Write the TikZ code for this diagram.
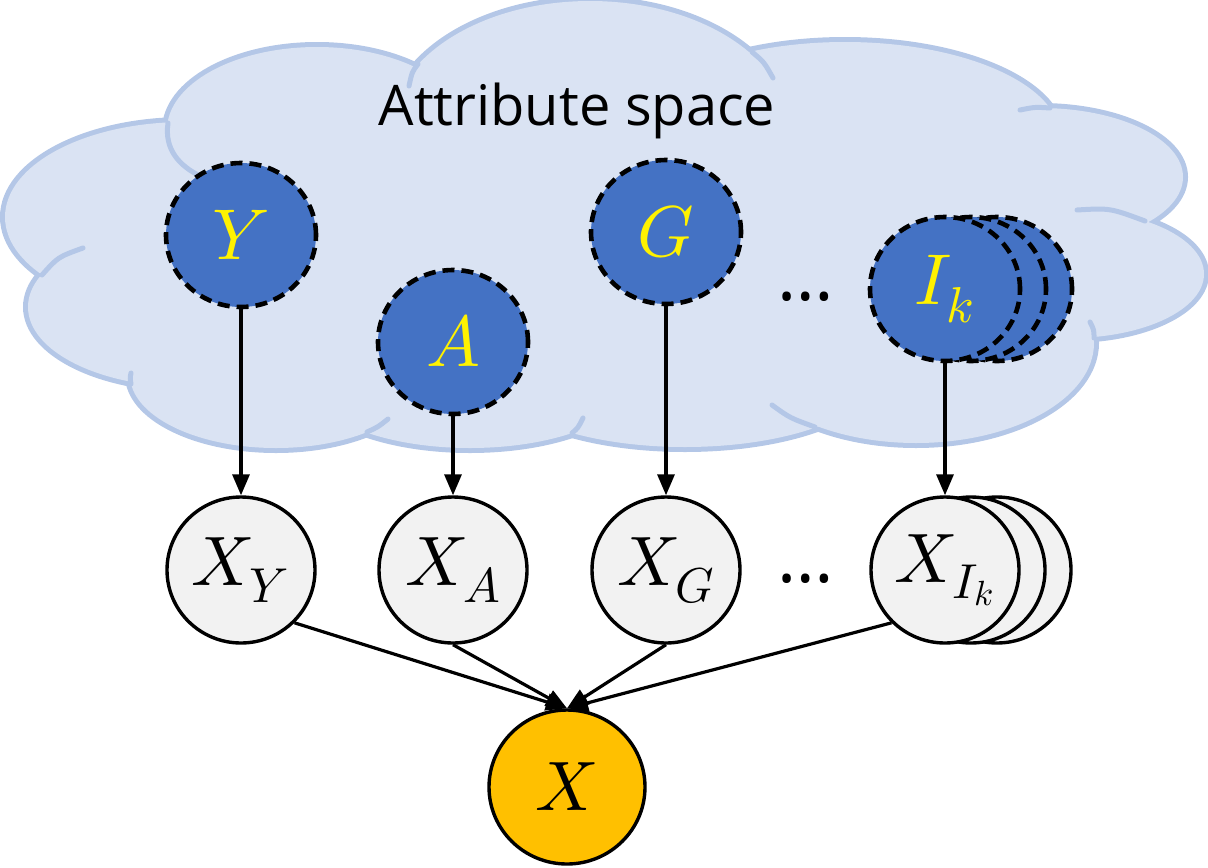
\documentclass[tikz,border=0pt]{standalone}
\usepackage{fontspec}
\setmainfont{Open Sans}
\usetikzlibrary{arrows.meta,shapes.geometric}
\DeclareFontShape{OML}{cmm}{m}{it}{<->cmmi10}{}
\definecolor{cloudfill}{HTML}{DAE3F3}
\definecolor{cloudline}{HTML}{B4C7E7}
\definecolor{attrblue}{HTML}{4472C4}
\definecolor{obsgrey}{HTML}{F2F2F2}
\definecolor{targetgold}{HTML}{FFC000}
\def\cloudbumps{185/217/180/95, 317/130/150/83, 590/131/200/130, 845/137/215/95,
    1040/177/143/69, 1070/274/134/64, 916/343/178/100, 685/372/194/75,
    470/378/165/70, 276/375/146/73, 188/307/160/80}

\begin{document}
\begin{tikzpicture}[x=0.5pt,y=-0.5pt,
    attr/.style={ellipse,draw=black,fill=attrblue,line width=2.3pt,dash pattern=on 6pt off 3.5pt,
        minimum width=75pt,minimum height=72pt,inner sep=0pt,text=yellow,font=\fontsize{36}{40}\selectfont},
    obs/.style={ellipse,draw=black,fill=obsgrey,line width=1.7pt,
        minimum width=74pt,minimum height=73pt,inner sep=0pt,font=\fontsize{35}{40}\selectfont},
    target/.style={obs,fill=targetgold,minimum width=78pt,minimum height=77pt},
    arrowline/.style={line width=1.6pt,-{Triangle[length=10.5pt,width=8.5pt]}},
    cloudrim/.style={draw=cloudline,line width=2.5pt,line cap=round}]
    \useasboundingbox (0,0) rectangle (1208,867);

    % cloud: bumps stroked first, then filled over
    \foreach \cx/\cy/\rx/\ry in \cloudbumps {
        \draw[cloudline,line width=5pt] (\cx,\cy) ellipse [x radius=\rx,y radius=\ry];
    }
    \foreach \cx/\cy/\rx/\ry in \cloudbumps {
        \fill[cloudfill] (\cx,\cy) ellipse [x radius=\rx,y radius=\ry];
    }
    \fill[cloudfill] (600,250) ellipse [x radius=450,y radius=150];

    % short inner rims
    \draw[cloudrim] (168,123) .. controls (164,150) and (180,166) .. (200,176);
    \draw[cloudrim] (418,64) .. controls (412,72) .. (409,86);
    \draw[cloudrim] (752,52) .. controls (764,62) .. (773,78);
    \draw[cloudrim] (1050,108) .. controls (1035,107) .. (1020,110);
    \draw[cloudrim] (1145,221) .. controls (1110,208) .. (1077,210);
    \draw[cloudrim] (1094,338) .. controls (1094,330) .. (1090,322);
    \draw[cloudrim] (815,427) .. controls (790,418) .. (772,405);
    \draw[cloudrim] (572,433) .. controls (578,428) .. (583,418);
    \draw[cloudrim] (367,432) .. controls (378,427) .. (388,419);
    \draw[cloudrim] (131,384) .. controls (130,378) .. (131,373);
    \draw[cloudrim] (42,275) .. controls (58,257) .. (83,248);

    \node[font=\fontsize{28}{32}\selectfont,anchor=base] (title) at (577,125) {Attribute space};

    % attribute nodes
    \node[attr] (Y) at (241,235) {$Y$};
    \node[attr] (A) at (453,342) {$A$};
    \node[attr] (G) at (666,232) {$G$};
    \foreach \s in {52,26} {
        \node[attr] (Ik-\s) at ({945+\s},289) {};
    }
    \node[attr] (Ik) at (945,289) {$I_k$};
    \node[font=\fontsize{36}{40}\selectfont] (dotsTop) at (806,297) {…};

    % observed nodes
    \node[obs] (XY) at (241,570) {$X_Y$};
    \node[obs] (XA) at (453,570) {$X_A$};
    \node[obs] (XG) at (666,570) {$X_G$};
    \foreach \s in {52,26} {
        \node[obs] (XIk-\s) at ({945+\s},570) {};
    }
    \node[obs] (XIk) at (945,570) {$X_{I_k}$};
    \node[font=\fontsize{36}{40}\selectfont] (dotsBottom) at (806,579) {…};

    \node[target] (X) at (567,787) {$X$};

    \draw[arrowline] (Y) -- (XY);
    \draw[arrowline] (A) -- (XA);
    \draw[arrowline] (G) -- (XG);
    \draw[arrowline] (Ik) -- (XIk);
    \draw[arrowline] (XY.south east) -- (X.north);
    \draw[arrowline] (XA.south) -- (X.north);
    \draw[arrowline] (XG.south) -- (X.north);
    \draw[arrowline] (XIk.south west) -- (X.north);
\end{tikzpicture}
\end{document}
